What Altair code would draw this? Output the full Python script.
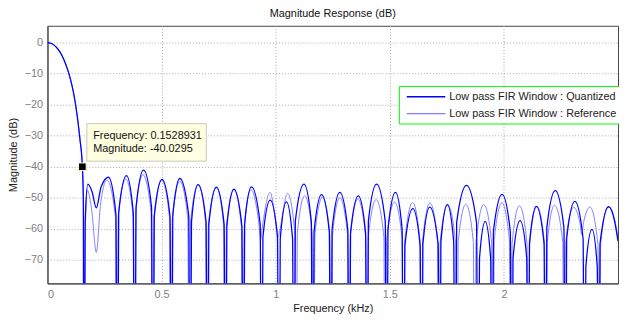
import altair as alt
import pandas as pd

series_names = ["Low pass FIR Window : Quantized", "Low pass FIR Window : Reference"]
series_colors = ["#0000ff", "#8080ff"]

x_ticks = [0, 0.5, 1, 1.5, 2]
y_ticks = [0, -10, -20, -30, -40, -50, -60, -70]

# main lobe (shared shape)
main_lobe = [(0.000, 0.0), (0.020, -0.4), (0.040, -1.6), (0.060, -3.7), (0.080, -7.0),
             (0.100, -11.6), (0.115, -16.5), (0.130, -23.5), (0.142, -31.0),
             (0.1529, -40.03), (0.157, -50.0)]

# Quantized response: (frequency kHz, dB)
q_pts = [
    (0.159, -150), (0.165, -57.6), (0.177, -45.6), (0.195, -48.0), (0.214, -53.3),
    (0.235, -46.5), (0.267, -43.4), (0.300, -55.4), (0.306, -150),
    (0.312, -54.9), (0.346, -42.9), (0.376, -54.9), (0.382, -150),
    (0.388, -53.1), (0.421, -41.1), (0.456, -53.1), (0.462, -150),
    (0.468, -56.1), (0.502, -44.1), (0.537, -56.1), (0.543, -150),
    (0.549, -55.8), (0.580, -43.8), (0.619, -55.8), (0.625, -150),
    (0.631, -57.8), (0.660, -45.8), (0.695, -57.8), (0.701, -150),
    (0.707, -58.6), (0.740, -46.6), (0.774, -58.6), (0.780, -150),
    (0.786, -59.2), (0.817, -47.2), (0.852, -59.2), (0.858, -150),
    (0.864, -58.5), (0.894, -46.5), (0.932, -58.5), (0.938, -150),
    (0.944, -62.8), (0.976, -50.8), (1.008, -62.8), (1.014, -150),
    (1.020, -63.3), (1.047, -51.3), (1.074, -63.3), (1.080, -150),
    (1.086, -57.6), (1.124, -45.6), (1.156, -57.6), (1.162, -150),
    (1.168, -61.0), (1.201, -49.0), (1.235, -61.0), (1.241, -150),
    (1.247, -60.3), (1.281, -48.3), (1.316, -60.3), (1.322, -150),
    (1.328, -61.4), (1.362, -49.4), (1.394, -61.4), (1.400, -150),
    (1.406, -57.6), (1.442, -45.6), (1.480, -57.6), (1.486, -150),
    (1.492, -60.3), (1.525, -48.3), (1.554, -60.3), (1.560, -150),
    (1.566, -65.5), (1.601, -53.5), (1.633, -65.5), (1.639, -150),
    (1.645, -65.0), (1.675, -53.0), (1.712, -65.0), (1.718, -150),
    (1.724, -64.2), (1.752, -52.2), (1.780, -64.2), (1.786, -150),
    (1.793, -58.0), (1.836, -46.0), (1.880, -58.0), (1.887, -150),
    (1.893, -69.6), (1.918, -57.6), (1.942, -69.6), (1.948, -150),
    (1.954, -60.9), (1.992, -48.9), (2.028, -60.9), (2.034, -150),
    (2.040, -69.4), (2.071, -57.4), (2.100, -69.4), (2.106, -150),
    (2.112, -64.8), (2.142, -52.8), (2.176, -64.8), (2.182, -150),
    (2.188, -59.7), (2.225, -47.7), (2.263, -59.7), (2.269, -150),
    (2.275, -63.2), (2.311, -51.2), (2.347, -63.2), (2.353, -150),
    (2.359, -72.2), (2.386, -60.2), (2.409, -72.2), (2.415, -150),
    (2.421, -64.9), (2.459, -52.9), (2.485, -57.5), (2.500, -64.0),
]

# Reference response: (frequency kHz, dB)
r_pts = [
    (0.158, -55.0), (0.161, -150), (0.166, -60.0), (0.174, -47.5), (0.193, -53.5),
    (0.214, -67.6), (0.232, -52.5), (0.260, -44.3), (0.298, -56.3), (0.304, -150),
    (0.310, -56.0), (0.343, -44.0), (0.375, -56.0), (0.381, -150),
    (0.387, -54.6), (0.418, -42.6), (0.454, -54.6), (0.460, -150),
    (0.466, -56.4), (0.500, -44.4), (0.535, -56.4), (0.541, -150),
    (0.547, -56.8), (0.580, -44.8), (0.615, -56.8), (0.621, -150),
    (0.627, -57.8), (0.660, -45.8), (0.693, -57.8), (0.699, -150),
    (0.705, -58.8), (0.740, -46.8), (0.772, -58.8), (0.778, -150),
    (0.784, -59.5), (0.817, -47.5), (0.850, -59.5), (0.856, -150),
    (0.862, -59.5), (0.892, -47.5), (0.928, -59.5), (0.934, -63.5),
    (0.940, -60.3), (0.975, -48.3), (1.006, -60.3), (1.012, -62.5),
    (1.018, -60.6), (1.052, -48.6), (1.083, -60.6), (1.089, -150),
    (1.095, -61.4), (1.127, -49.4), (1.160, -61.4), (1.166, -150),
    (1.172, -61.8), (1.205, -49.8), (1.237, -61.8), (1.243, -150),
    (1.249, -62.0), (1.281, -50.0), (1.315, -62.0), (1.321, -150),
    (1.327, -62.4), (1.360, -50.4), (1.394, -62.4), (1.400, -150),
    (1.406, -62.6), (1.440, -50.6), (1.474, -62.6), (1.480, -150),
    (1.486, -63.4), (1.521, -51.4), (1.554, -63.4), (1.560, -150),
    (1.566, -63.6), (1.600, -51.6), (1.632, -63.6), (1.638, -150),
    (1.644, -63.7), (1.676, -51.7), (1.709, -63.7), (1.715, -150),
    (1.721, -64.3), (1.754, -52.3), (1.788, -64.3), (1.794, -150),
    (1.800, -64.1), (1.833, -52.1), (1.866, -64.1), (1.872, -150),
    (1.878, -64.2), (1.912, -52.2), (1.946, -64.2), (1.952, -150),
    (1.958, -63.6), (1.991, -51.6), (2.024, -63.6), (2.030, -150),
    (2.036, -64.6), (2.068, -52.6), (2.101, -64.6), (2.107, -150),
    (2.113, -64.8), (2.145, -52.8), (2.178, -64.8), (2.184, -150),
    (2.190, -64.4), (2.222, -52.4), (2.258, -64.4), (2.264, -150),
    (2.270, -65.1), (2.305, -53.1), (2.333, -58.0), (2.341, -62.0),
    (2.349, -58.0), (2.377, -53.0), (2.412, -65.0), (2.418, -150),
    (2.424, -64.9), (2.457, -52.9), (2.485, -57.0), (2.500, -63.0),
]

tip_freq = [0.1528931]
tip_mag = [-40.0295]
tip_lines = ["Frequency: 0.1528931", "Magnitude: -40.0295"]

q_rows = main_lobe + q_pts
r_rows = main_lobe + r_pts
q_df = pd.DataFrame({"f": [p[0] for p in q_rows], "db": [p[1] for p in q_rows],
                     "series": series_names[0], "order": list(range(len(q_rows)))})
r_df = pd.DataFrame({"f": [p[0] for p in r_rows], "db": [p[1] for p in r_rows],
                     "series": series_names[1], "order": list(range(len(r_rows)))})
tip_df = pd.DataFrame({"f": tip_freq, "db": tip_mag})

FONT = "Liberation Sans"

xs = alt.Scale(domain=[0, 2.5], nice=False, zero=False)
ys = alt.Scale(domain=[-77.6, 5.4], nice=False, zero=False)
xenc = alt.X("f:Q", scale=xs, axis=alt.Axis(values=x_ticks, format="~g", title="Frequency (kHz)",
                                             labelPadding=5, titlePadding=3))
yenc = alt.Y("db:Q", scale=ys, axis=alt.Axis(values=y_ticks, title="Magnitude (dB)",
                                              labelPadding=5, titlePadding=6))
color = alt.Color("series:N", scale=alt.Scale(domain=series_names, range=series_colors),
                  legend=alt.Legend(title=None, orient="none", legendX=356, legendY=61,
                                    symbolType="M-0.6,0H7.2", symbolSize=100, symbolStrokeWidth=1.5,
                                    labelFontSize=11, labelColor="#222222", labelFont=FONT,
                                    labelLimit=400,
                                    strokeColor="#00ff00", fillColor="white",
                                    padding=5, rowPadding=6, labelOffset=34))

ref_line = alt.Chart(r_df).mark_line(clip=True, strokeWidth=1, interpolate="monotone").encode(
    x=xenc, y=yenc, color=color, order="order:Q")
q_line = alt.Chart(q_df).mark_line(clip=True, strokeWidth=1.3, interpolate="monotone").encode(
    x=xenc, y=yenc, color=color, order="order:Q")

box = alt.Chart(tip_df).mark_rect(fill="#ffffe1", stroke="#c8c8b4", strokeWidth=1,
                                  xOffset=4.5, x2Offset=125.5, yOffset=-43.7, y2Offset=-5.7).encode(
    x=xenc, x2="f:Q", y=yenc, y2="db:Q")
txt = alt.Chart(tip_df).mark_text(align="left", baseline="top", dx=11, dy=-37, fontSize=11,
                                  lineHeight=13, font=FONT, color="#111111").encode(
    x=xenc, y=yenc, text=alt.value(tip_lines))
marker = alt.Chart(tip_df).mark_square(size=60, color="black", filled=True, opacity=1,
                                       stroke="#ffffcc", strokeWidth=1).encode(x=xenc, y=yenc)

chart = alt.layer(ref_line, q_line, box, txt, marker).properties(
    width=578, height=261,
    title="Magnitude Response (dB)",
    autosize=alt.AutoSizeParams(type="none"),
    padding={"left": 40, "top": 16, "right": 1, "bottom": 30},
    background="white",
).configure_view(stroke="#444444", strokeWidth=1).configure_axis(
    labelFont=FONT, labelFontSize=11, labelColor="#808080",
    titleFont=FONT, titleFontSize=11, titleColor="#222222", titleFontWeight="normal",
    grid=True, gridColor="#a8a8a8", gridDash=[1, 2], gridWidth=1,
    domainColor="#444444", tickSize=0,
).configure_title(font=FONT, fontSize=11, fontWeight="normal", color="#111111", offset=7)

chart.save("out.html", embed_options={"renderer": "svg", "actions": False})
